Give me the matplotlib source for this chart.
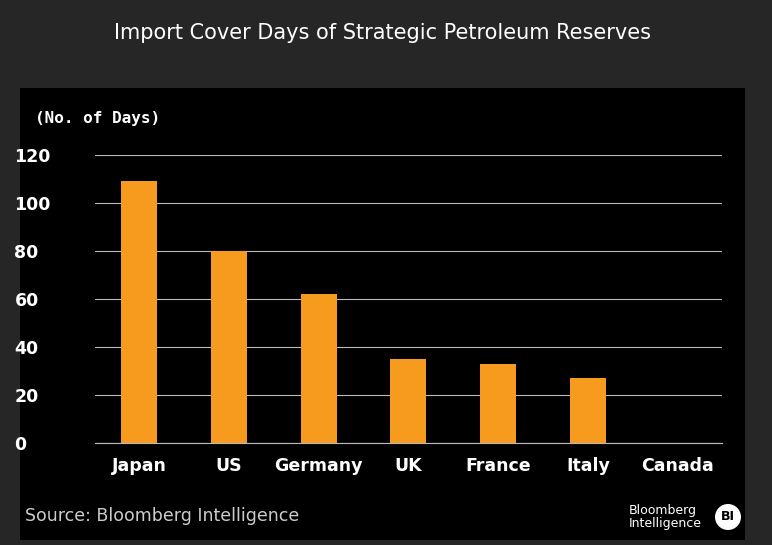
import matplotlib.pyplot as plt
from matplotlib.patches import Rectangle, Circle

countries = ["Japan", "US", "Germany", "UK", "France", "Italy", "Canada"]
days = [109, 80, 62, 35, 33, 27, 0]
yticks = [0, 20, 40, 60, 80, 100, 120]

fig = plt.figure(figsize=(7.72, 5.45), dpi=100)
fig.patch.set_facecolor("#262626")

# background panel in pixel coordinates
bg = fig.add_axes([0, 0, 1, 1], zorder=-1)
bg.set_xlim(0, 772)
bg.set_ylim(545, 0)
bg.axis("off")
bg.add_patch(Rectangle((20, 88), 725, 452, facecolor="black", edgecolor="none"))
bg.add_patch(Circle((728, 517), 13, facecolor="white", edgecolor="none"))
bg.text(728, 517, "BI", color="black", fontsize=9, fontweight="bold", ha="center", va="center")
bg.text(629, 517, "Bloomberg\nIntelligence", color="white", fontsize=9, va="center", linespacing=0.95)
bg.text(25, 516, "Source: Bloomberg Intelligence", color="#cccccc", fontsize=12.5, va="center")
bg.text(35, 118, "(No. of Days)", color="white", fontsize=11.5, fontweight="bold",
        family="DejaVu Sans Mono", va="center")
bg.text(383, 33, "Import Cover Days of Strategic Petroleum Reserves", color="white",
        fontsize=15, ha="center", va="center")

ax = fig.add_axes([0.123, 0.187, 0.812, 0.529])
ax.set_facecolor("black")
ax.bar(range(len(countries)), days, width=0.4, color="#F79B1E", zorder=3)
ax.set_xlim(-0.49, 6.49)
ax.set_ylim(0, 120)
ax.set_yticks(yticks)
ax.set_xticks(range(len(countries)))
ax.set_xticklabels(countries)
ax.grid(axis="y", color="#bbbbbb", linewidth=0.8, zorder=0)
for s in ax.spines.values():
    s.set_visible(False)
ax.spines["bottom"].set_visible(True)
ax.spines["bottom"].set_color("#bbbbbb")
ax.tick_params(length=0, colors="white", labelsize=12.5, pad=10)
for lab in ax.get_xticklabels() + ax.get_yticklabels():
    lab.set_fontweight("bold")
ax.tick_params(axis="y", pad=58)
for lab in ax.get_yticklabels():
    lab.set_horizontalalignment("left")

fig.savefig("out.png", dpi=100, facecolor=fig.get_facecolor())
